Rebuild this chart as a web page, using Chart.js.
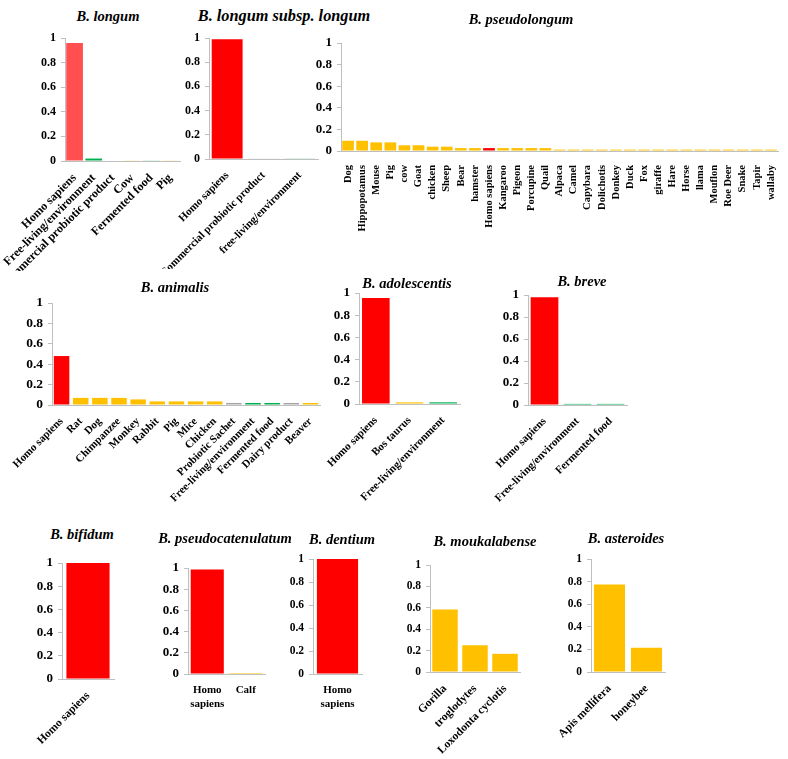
<!DOCTYPE html>
<html><head><meta charset="utf-8">
<script src="https://cdn.jsdelivr.net/npm/chart.js@4.4.0/dist/chart.umd.min.js"></script>
<style>
html,body{margin:0;padding:0;background:#fff;width:788px;height:759px;overflow:hidden;position:relative}
canvas{position:absolute}
.t{position:absolute;font-family:'Liberation Serif','Times New Roman',serif;font-weight:bold;font-style:italic;white-space:nowrap;transform:translate(-50%,-50%);color:#000;font-size:14.5px}
</style></head><body>
<script>
// ---- data ----
const longumCats = ['Homo sapiens','Free-living/environment','Commercial probiotic product','Cow','Fermented food','Pig'];
const longumVals = [0.96,0.02,0.004,0.003,0.003,0.003];
const longumSrc  = ['human','env','product','animal','env','animal'];

const subspCats = ['Homo sapiens','Commercial probiotic product','free-living/environment'];
const subspVals = [0.99,0.005,0.003];
const subspSrc  = ['human','product','env'];

const pseudoCats = ['Dog','Hippopotamus','Mouse','Pig','cow','Goat','chicken','Sheep','Bear','hamster','Homo sapiens','Kangaroo','Pigeon','Porcupine','Quail','Alpaca','Camel','Capybara','Dolichotis','Donkey','Duck','Fox','giraffe','Hare','Horse','llama','Mouflon','Roe Deer','Snake','Tapir','wallaby'];
const pseudoVals = [0.095,0.095,0.08,0.08,0.053,0.053,0.04,0.04,0.027,0.027,0.027,0.027,0.027,0.027,0.027,0.013,0.013,0.013,0.013,0.013,0.013,0.013,0.013,0.013,0.013,0.013,0.013,0.013,0.013,0.013,0.013];
const pseudoSrc  = ['animal','animal','animal','animal','animal','animal','animal','animal','animal','animal','human','animal','animal','animal','animal','animal','animal','animal','animal','animal','animal','animal','animal','animal','animal','animal','animal','animal','animal','animal','animal'];

const animalisCats = ['Homo sapiens','Rat','Dog','Chimpanzee','Monkey','Rabbit','Pig','Mice','Chicken','Probiotic Sachet','Free-living/environment','Fermented food','Dairy product','Beaver'];
const animalisVals = [0.48,0.07,0.07,0.07,0.055,0.035,0.035,0.035,0.035,0.02,0.02,0.02,0.02,0.02];
const animalisSrc  = ['human','animal','animal','animal','animal','animal','animal','animal','animal','product','env','env','product','animal'];

const adolCats = ['Homo sapiens','Bos taurus','Free-living/environment'];
const adolVals = [0.955,0.015,0.015];
const adolSrc  = ['human','animal','env'];

const breveCats = ['Homo sapiens','Free-living/environment','Fermented food'];
const breveVals = [0.98,0.01,0.01];
const breveSrc  = ['human','env','env'];

const bifidumCats = ['Homo sapiens'];
const bifidumVals = [1];
const bifidumSrc  = ['human'];

const pcatCats = [['Homo','sapiens'],'Calf'];
const pcatVals = [0.985,0.01];
const pcatSrc  = ['human','animal'];

const dentiumCats = [['Homo','sapiens']];
const dentiumVals = [1];
const dentiumSrc  = ['human'];

const moukCats = ['Gorilla','troglodytes','Loxodonta cyclotis'];
const moukVals = [0.585,0.25,0.17];
const moukSrc  = ['animal','animal','animal'];

const asterCats = ['Apis mellifera','honeybee'];
const asterVals = [0.775,0.215];
const asterSrc  = ['animal','animal'];

const yTickLabels = ['0','0.2','0.4','0.6','0.8','1'];

// ---- styles ----
const COLORS = {human:'#FF0000', animal:'#FFC000', env:'#00B050', product:'#A6A6A6'};
Chart.defaults.font.family = "'Liberation Serif','Times New Roman',serif";
Chart.defaults.font.weight = 'bold';

function panel(o, title, cats, vals, src) {
  const L = o.L || 80, T = 12, R = 12, H = o.labelH || 110;
  const cv = document.createElement('canvas');
  const w = L + (o.right - o.left) + R, h = T + (o.bottom - o.top) + H;
  cv.width = w; cv.height = h;
  cv.style.left = (o.left - L) + 'px'; cv.style.top = (o.top - T) + 'px';
  cv.style.width = w + 'px'; cv.style.height = h + 'px';
  document.body.appendChild(cv);
  const t = document.createElement('div');
  t.className = 't'; t.textContent = title;
  t.style.left = o.tx + 'px'; t.style.top = o.ty + 'px';
  if (o.tf) t.style.fontSize = o.tf + 'px';
  document.body.appendChild(t);
  new Chart(cv, {
    type: 'bar',
    data: { labels: cats, datasets: [{ data: vals,
      backgroundColor: src.map(s => (o.colors && o.colors[s]) || COLORS[s]),
      borderWidth: 0, barPercentage: o.bp || 0.85, categoryPercentage: 1 }] },
    options: {
      responsive: false, animation: false, devicePixelRatio: 1,
      layout: { padding: { top: T, right: R, left: 0, bottom: 0 } },
      plugins: { legend: { display: false }, tooltip: { enabled: false }, title: { display: false } },
      scales: {
        x: { offset: true, grid: { display: false }, border: { display: true, color: '#BFBFBF', width: 1 },
          ticks: { autoSkip: false, maxRotation: o.rot, minRotation: o.rot, color: '#000',
                   font: { size: o.xf, weight: 'bold' }, padding: o.xp || 2 },
          afterFit: s => { s.height = H; s.paddingLeft = 0; s.paddingRight = 0; } },
        y: { min: 0, max: 1,
          grid: { drawOnChartArea: false, drawTicks: true, tickLength: 4, color: '#BFBFBF' },
          border: { display: true, color: '#BFBFBF', width: 1 },
          ticks: { stepSize: 0.2, color: '#000', font: { size: o.yf, weight: 'bold' }, padding: 5,
                   callback: (v, i) => yTickLabels[i] },
          afterFit: s => { s.width = L; s.paddingTop = 0; s.paddingBottom = 0; } }
      }
    }
  });
}

panel({left:65, top:38, right:180, bottom:161, tx:108, ty:16, xf:12, yf:12, rot:45, bp:0.87, colors:{human:'#FF4F4F'}}, 'B. longum', longumCats, longumVals, longumSrc);
panel({left:209, top:38, right:318, bottom:159, tx:284, ty:16, tf:16.3, xf:11, yf:12, rot:45, bp:0.85}, 'B. longum subsp. longum', subspCats, subspVals, subspSrc);
panel({left:341, top:43, right:778, bottom:151, tx:521, ty:19, xf:10.5, yf:13, rot:90, bp:0.83, xp:6}, 'B. pseudolongum', pseudoCats, pseudoVals, pseudoSrc);
panel({left:52, top:303, right:320, bottom:405, tx:175, ty:287, xf:11, yf:13.5, rot:45, bp:0.81}, 'B. animalis', animalisCats, animalisVals, animalisSrc);
panel({left:359, top:293, right:460, bottom:404, tx:407, ty:283, xf:11, yf:13, rot:45, bp:0.82}, 'B. adolescentis', adolCats, adolVals, adolSrc);
panel({left:528, top:295, right:627, bottom:405, tx:582, ty:281, xf:11, yf:13, rot:45, bp:0.84}, 'B. breve', breveCats, breveVals, breveSrc);
panel({left:62, top:563, right:114, bottom:679, tx:82, ty:534, xf:11.5, yf:13, rot:45, bp:0.83}, 'B. bifidum', bifidumCats, bifidumVals, bifidumSrc);
panel({left:188, top:568, right:265, bottom:674, tx:225, ty:538, xf:11, yf:13, rot:0, bp:0.86}, 'B. pseudocatenulatum', pcatCats, pcatVals, pcatSrc);
panel({left:313, top:559, right:362, bottom:674, tx:342, ty:539, xf:11, yf:11.5, rot:0, bp:0.84}, 'B. dentium', dentiumCats, dentiumVals, dentiumSrc);
panel({left:430, top:565, right:520, bottom:672, tx:485, ty:541, xf:11.5, yf:11.5, rot:45, bp:0.85}, 'B. moukalabense', moukCats, moukVals, moukSrc);
panel({left:591, top:559, right:665, bottom:672, tx:626, ty:538, xf:11.5, yf:11.5, rot:45, bp:0.84}, 'B. asteroides', asterCats, asterVals, asterSrc);
</script>
</body></html>
